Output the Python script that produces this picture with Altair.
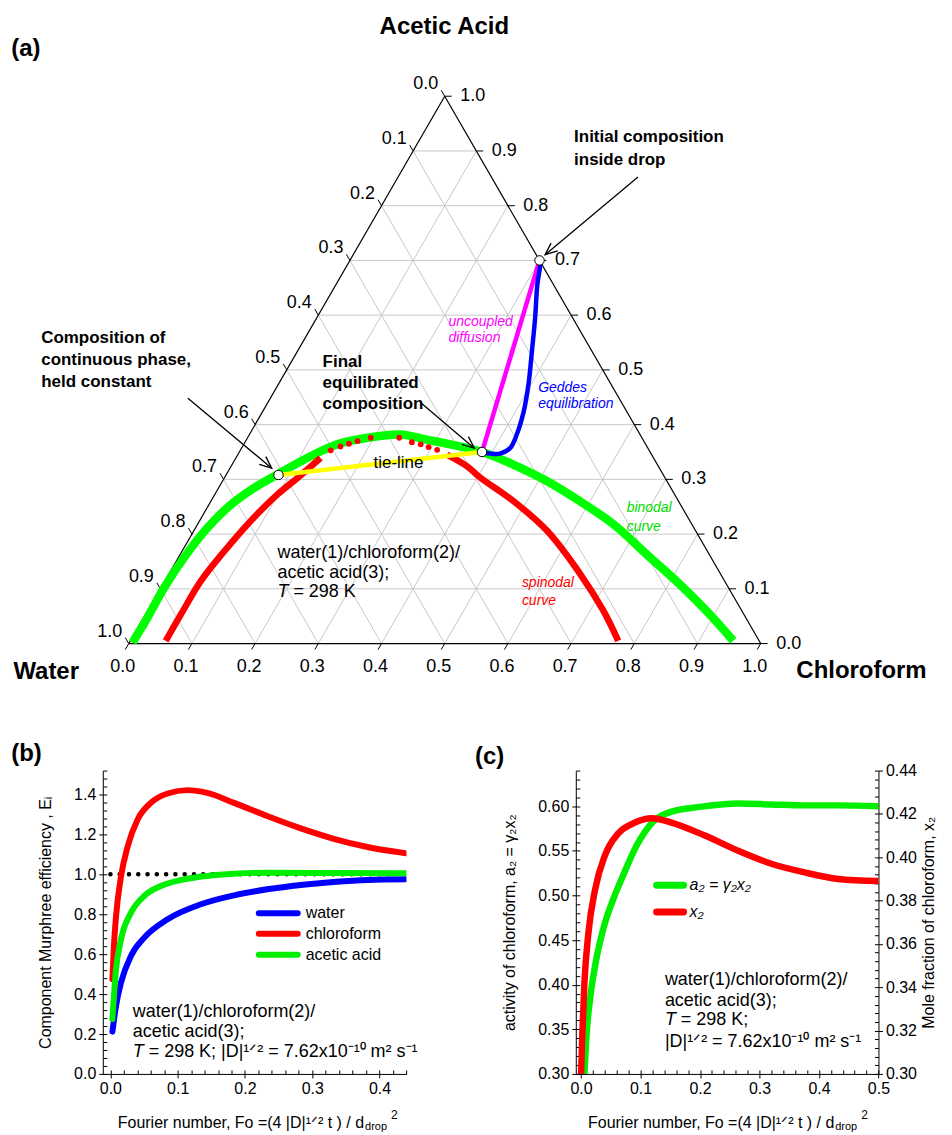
import math
import altair as alt
import pandas as pd

FONT = "Liberation Sans"

# ---------------- (a) ternary diagram: compositions (x_chloroform, x_acetic acid) ----------------
binodal_chloro = [0.005, 0.006, 0.005, 0.009, 0.019, 0.035, 0.056, 0.081, 0.113, 0.148, 0.194, 0.239,
                  0.283, 0.327, 0.384, 0.445, 0.513, 0.584, 0.658, 0.738, 0.818, 0.901, 0.954]
binodal_acetic = [0.002, 0.047, 0.102, 0.157, 0.212, 0.254, 0.284, 0.309, 0.339, 0.364, 0.377, 0.382,
                  0.373, 0.364, 0.350, 0.327, 0.297, 0.260, 0.218, 0.163, 0.108, 0.047, 0.005]

spin_left_chloro = [0.056, 0.056, 0.057, 0.067, 0.081, 0.099, 0.116, 0.134]
spin_left_acetic = [0.005, 0.054, 0.114, 0.169, 0.224, 0.272, 0.303, 0.339]
spin_dot_chloro = [0.143, 0.155, 0.166, 0.177, 0.195, 0.240, 0.264, 0.280, 0.295, 0.311]
spin_dot_acetic = [0.353, 0.360, 0.365, 0.370, 0.376, 0.376, 0.368, 0.364, 0.359, 0.354]
spin_right_chloro = [0.331, 0.373, 0.405, 0.479, 0.559, 0.651, 0.721, 0.772]
spin_right_acetic = [0.345, 0.324, 0.303, 0.260, 0.206, 0.127, 0.060, 0.005]

geddes_chloro = [0.300, 0.305, 0.319, 0.346, 0.371, 0.396, 0.413, 0.423, 0.425, 0.414, 0.399, 0.384]
geddes_acetic = [0.700, 0.692, 0.655, 0.594, 0.534, 0.473, 0.424, 0.382, 0.357, 0.347, 0.347, 0.350]

uncoupled_chloro = [0.300, 0.384]
uncoupled_acetic = [0.700, 0.350]

tie_chloro = [0.083, 0.384]
tie_acetic = [0.308, 0.350]

point_names = ["initial", "continuous", "final"]
point_chloro = [0.300, 0.083, 0.384]
point_acetic = [0.700, 0.308, 0.350]

tern_ticks = [0.0, 0.1, 0.2, 0.3, 0.4, 0.5, 0.6, 0.7, 0.8, 0.9, 1.0]

# ---------------- (b) Murphree efficiencies ----------------
fo_water = [0.003, 0.0084, 0.0158, 0.0307, 0.0504, 0.085, 0.1345, 0.184, 0.233, 0.283, 0.332, 0.382, 0.44]
E_water = [0.212, 0.342, 0.458, 0.592, 0.683, 0.775, 0.850, 0.895, 0.925, 0.947, 0.962, 0.972, 0.975]
fo_chloro = [0.003, 0.005, 0.0084, 0.0158, 0.0257, 0.0405, 0.060, 0.085, 0.1147, 0.144, 0.184, 0.233,
             0.283, 0.332, 0.382, 0.44]
E_chloro = [0.475, 0.625, 0.790, 0.990, 1.140, 1.275, 1.358, 1.405, 1.422, 1.408, 1.358, 1.292,
            1.230, 1.178, 1.137, 1.105]
fo_acetic = [0.003, 0.0084, 0.0158, 0.0307, 0.0504, 0.075, 0.110, 0.144, 0.184, 0.233, 0.332, 0.44]
E_acetic = [0.275, 0.525, 0.675, 0.808, 0.892, 0.942, 0.975, 0.992, 1.003, 1.008, 1.007, 1.005]
b_names = ["water", "chloroform", "acetic acid"]
b_colors = ["#0000ff", "#ff0000", "#00ee00"]
fo_unity = [0.0, 0.426]
E_unity = [1.0, 1.0]

# ---------------- (c) activity and mole fraction of chloroform ----------------
fo_a2 = [0.0056, 0.0095, 0.0151, 0.0246, 0.0375, 0.0542, 0.071, 0.0934, 0.1214, 0.152, 0.197, 0.264,
         0.320, 0.376, 0.432, 0.5]
a2_vals = [0.300, 0.347, 0.384, 0.425, 0.463, 0.496, 0.523, 0.556, 0.583, 0.594, 0.599, 0.603,
           0.602, 0.601, 0.601, 0.600]
fo_x2 = [0.0, 0.0022, 0.0056, 0.0123, 0.0235, 0.0403, 0.0626, 0.0906, 0.1186, 0.152, 0.208, 0.264,
         0.320, 0.376, 0.432, 0.5]
x2_vals = [0.300, 0.319, 0.342, 0.365, 0.385, 0.401, 0.411, 0.416, 0.418, 0.416, 0.410, 0.403,
           0.397, 0.393, 0.390, 0.389]
c_names = ["a₂ = γ₂x₂", "x₂"]
c_colors = ["#00ee00", "#ff0000"]

# =====================================================================================
S3 = math.sqrt(3) / 2.0


def tern_xy(c, a):
    return c + a / 2.0, a * S3


def tern_curve(chloro, acetic):
    rows = []
    for i, (c, a) in enumerate(zip(chloro, acetic)):
        X, Y = tern_xy(c, a)
        rows.append({"X": X, "Y": Y, "i": i})
    return pd.DataFrame(rows)


TX = alt.Scale(domain=[-0.04105, 1.3016], nice=False, zero=False)
TY = alt.Scale(domain=[-0.09048, 1.01484], nice=False, zero=False)


def tx(f="X"):
    return alt.X(f"{f}:Q", scale=TX, axis=None)


def ty(f="Y"):
    return alt.Y(f"{f}:Q", scale=TY, axis=None)


def t_rules(df, **kw):
    return alt.Chart(df).mark_rule(**kw).encode(
        x=tx("X"), y=ty("Y"), x2=alt.X2("X2:Q"), y2=alt.Y2("Y2:Q"))


def t_line(df, **kw):
    return alt.Chart(df).mark_line(**kw).encode(x=tx(), y=ty(), order="i:Q")


def t_text(rows, **kw):
    df = pd.DataFrame(rows, columns=["X", "Y", "text"])
    return alt.Chart(df).mark_text(font=FONT, baseline="middle", **kw).encode(
        x=tx(), y=ty(), text="text:N")


# grid lines
grid_rows = []
for k in tern_ticks[1:-1]:
    grid_rows.append({"X": k / 2, "Y": k * S3, "X2": 1 - k / 2, "Y2": k * S3})
    grid_rows.append({"X": k, "Y": 0.0, "X2": k + (1 - k) / 2, "Y2": (1 - k) * S3})
    grid_rows.append({"X": 1 - k, "Y": 0.0, "X2": (1 - k) / 2, "Y2": (1 - k) * S3})
grid_df = pd.DataFrame(grid_rows)

edge_df = pd.DataFrame([
    {"X": 0.0, "Y": 0.0, "X2": 1.0, "Y2": 0.0},
    {"X": 1.0, "Y": 0.0, "X2": 0.5, "Y2": S3},
    {"X": 0.5, "Y": S3, "X2": 0.0, "Y2": 0.0},
])

L = 0.011
tick_rows, bl_rows, ll_rows, rl_rows = [], [], [], []
for k in tern_ticks:
    lab = f"{k:.1f}"
    tick_rows.append({"X": k, "Y": 0.0, "X2": k - 0.5 * L, "Y2": -S3 * L})
    lx, ly = 0.5 * (1 - k), S3 * (1 - k)
    tick_rows.append({"X": lx, "Y": ly, "X2": lx - 0.5 * L, "Y2": ly + S3 * L})
    rx, ry = 1 - k / 2, S3 * k
    tick_rows.append({"X": rx, "Y": ry, "X2": rx + L, "Y2": ry})
    bl_rows.append((k, 0.0, lab))
    ll_rows.append((lx, ly, lab))
    rl_rows.append((rx, ry, lab))
tick_df = pd.DataFrame(tick_rows)

# arrows (annotation geometry, diagram units)
arrow_from = [(0.8058, 0.7382), (0.0936, 0.3880), (0.4631, 0.3801)]
arrow_to = [(0.6589, 0.6153), (0.2263, 0.2775), (0.5468, 0.3090)]
arr_rows, head_rows = [], []
for (x1, y1), (x2, y2) in zip(arrow_from, arrow_to):
    arr_rows.append({"X": x1, "Y": y1, "X2": x2, "Y2": y2})
    ang = math.degrees(math.atan2(-(y2 - y1), x2 - x1)) % 360
    head_rows.append({"X": x2, "Y": y2, "ang": ang})
arr_df = pd.DataFrame(arr_rows)
head_df = pd.DataFrame(head_rows)

pts = []
for n, c, a in zip(point_names, point_chloro, point_acetic):
    X, Y = tern_xy(c, a)
    pts.append({"X": X, "Y": Y, "name": n})
pts_df = pd.DataFrame(pts)

anchor_a = pd.DataFrame({"X": [-0.2016, -0.2016], "Y": [1.0148, -0.0905]})

layers_a = [
    t_rules(grid_df, color="#c8c8c8", strokeWidth=1),
    t_rules(edge_df, color="black", strokeWidth=1.2),
    t_rules(tick_df, color="black", strokeWidth=1),
    t_text(bl_rows, fontSize=18, align="center", dx=-6, dy=24),
    t_text(ll_rows, fontSize=18, align="center", dx=-19, dy=-12),
    t_text(rl_rows, fontSize=18, align="center", dx=28, dy=0),
    t_line(tern_curve(binodal_chloro, binodal_acetic), color="#00ff00", strokeWidth=8.5,
           interpolate="catmull-rom"),
    t_line(tern_curve(spin_left_chloro, spin_left_acetic), color="#ff0000", strokeWidth=6.5,
           interpolate="catmull-rom"),
    t_line(tern_curve(spin_right_chloro, spin_right_acetic), color="#ff0000", strokeWidth=6.5,
           interpolate="catmull-rom"),
    alt.Chart(tern_curve(spin_dot_chloro, spin_dot_acetic)).mark_circle(
        color="#ff0000", size=34, opacity=1).encode(x=tx(), y=ty()),
    t_line(tern_curve(tie_chloro, tie_acetic), color="#ffff00", strokeWidth=4.5),
    t_line(tern_curve(uncoupled_chloro, uncoupled_acetic), color="#ff00ff", strokeWidth=4.5),
    t_line(tern_curve(geddes_chloro, geddes_acetic), color="#0000ff", strokeWidth=4.5,
           interpolate="catmull-rom"),
    t_rules(arr_df, color="black", strokeWidth=1.3),
    alt.Chart(head_df).mark_point(shape="M-2,-0.85L0,0L-2,0.85", filled=False, color="black",
                                  strokeWidth=1.3, size=144, opacity=1).encode(
        x=tx(), y=ty(), angle=alt.Angle("ang:Q", scale=None)),
    alt.Chart(pts_df).mark_circle(color="white", stroke="black", strokeWidth=1, size=90,
                                  opacity=1).encode(x=tx(), y=ty()),
    t_text([(0.4994, 0.9753, "Acetic Acid"), (-0.1306, -0.0447, "Water"),
            (1.1595, -0.0431, "Chloroform")], fontSize=24, fontWeight="bold", align="center"),
    t_text([(-0.1858, 0.9406, "(a)")], fontSize=24, fontWeight="bold", align="left"),
    t_text([(0.7047, 0.8017, "Initial composition"), (0.7047, 0.7654, "inside drop"),
            (-0.1385, 0.4827, "Composition of"), (-0.1385, 0.4480, "continuous phase,"),
            (-0.1385, 0.4132, "held constant"),
            (0.3068, 0.4448, "Final"), (0.3068, 0.4117, "equilibrated"),
            (0.3068, 0.3785, "composition")], fontSize=17, fontWeight="bold", align="left"),
    t_text([(0.5058, 0.5080, "uncoupled"), (0.5058, 0.4827, "diffusion")], fontSize=14,
           fontStyle="italic", align="left", color="#ff00ff"),
    t_text([(0.6479, 0.4038, "Geddes"), (0.6479, 0.3785, "equilibration")], fontSize=14,
           fontStyle="italic", align="left", color="#0000ff"),
    t_text([(0.7879, 0.2138, "binodal"), (0.7879, 0.1847, "curve")], fontSize=14,
           fontStyle="italic", align="left", color="#00dd00"),
    t_text([(0.6221, 0.0963, "spinodal"), (0.6221, 0.0674, "curve")], fontSize=14,
           fontStyle="italic", align="left", color="#ff0000"),
    t_text([(0.4268, 0.2853, "tie-line")], fontSize=17, align="center"),
    t_text([(0.2353, 0.1432, "water(1)/chloroform(2)/"), (0.2353, 0.1116, "acetic acid(3);")],
           fontSize=18, align="left"),
    t_text([(0.2353, 0.0808, "T")], fontSize=18, align="left", fontStyle="italic"),
    t_text([(0.2353, 0.0808, "= 298 K")], fontSize=18, align="left", dx=16),
    alt.Chart(anchor_a).mark_point(size=1, opacity=0, filled=True).encode(x=tx(), y=ty()),
]
top = alt.layer(*layers_a).properties(width=850.3, height=700)

# ---------------- panel (b) ----------------
WB, HB = 304.3, 304
XB = alt.Scale(domain=[-0.0113, 0.44], nice=False, zero=False)
YB = alt.Scale(domain=[0, 1.52], nice=False, zero=False)


def bx(axis=None):
    return alt.X("fo:Q", scale=XB, axis=axis)


def by(axis=None):
    return alt.Y("E:Q", scale=YB, axis=axis)


def b_text(rows, **kw):
    df = pd.DataFrame(rows, columns=["fo", "E", "text"])
    return alt.Chart(df).mark_text(font=FONT, baseline="middle", **kw).encode(
        x=bx(), y=by(), text="text:N")


def series_df(xs, ys, xname, yname):
    return pd.DataFrame({xname: xs, yname: ys, "i": list(range(len(xs)))})


b_main_x = alt.Axis(values=[0.0, 0.1, 0.2, 0.3, 0.4], format=".1f", title=None, tickSize=4,
                    labelPadding=3, labelFlush=False, labelOverlap=False)
b_main_y = alt.Axis(values=[0.0, 0.2, 0.4, 0.6, 0.8, 1.0, 1.2, 1.4], format=".1f",
                    title="Component Murphree efficiency , Eᵢ", titlePadding=20, tickSize=4,
                    labelPadding=3, labelFlush=False, labelOverlap=False)
b_minor_x = alt.Axis(orient="top", offset=-HB, values=[round(i * 0.02, 2) for i in range(23)],
                     labels=False, domain=False, tickSize=4, title=None)
b_minor_y = alt.Axis(orient="right", offset=-WB, values=[round(i * 0.04, 2) for i in range(39)],
                     labels=False, domain=False, tickSize=4, title=None)

b_series = [(fo_water, E_water), (fo_chloro, E_chloro), (fo_acetic, E_acetic)]
layers_b = [
    alt.Chart(series_df(fo_unity, E_unity, "fo", "E")).mark_line(
        color="black", strokeWidth=4.5, strokeDash=[0.1, 9.2], strokeCap="round").encode(
        x=bx(b_main_x), y=by(b_main_y), order="i:Q"),
]
for (xs, ys), col in zip(b_series, b_colors):
    layers_b.append(alt.Chart(series_df(xs, ys, "fo", "E")).mark_line(
        color=col, strokeWidth=6, interpolate="monotone", strokeCap="round", clip=True).encode(
        x=bx(), y=by(), order="i:Q"))
layers_b.append(alt.Chart(pd.DataFrame({"fo": [0.0], "E": [0.0]})).mark_point(opacity=0, size=1).encode(
    x=bx(b_minor_x), y=by(b_minor_y)))
leg_y_b = [0.805, 0.702, 0.597]
leg_b_df = pd.DataFrame({"fo": [0.2206] * 3, "fo2": [0.2784] * 3, "E": leg_y_b, "legb": b_names})
layers_b.append(alt.Chart(leg_b_df).mark_rule(strokeWidth=6, strokeCap="round").encode(
    x=bx(), x2=alt.X2("fo2:Q"), y=by(),
    color=alt.Color("legb:N", scale=alt.Scale(domain=b_names, range=b_colors), legend=None)))
layers_b.append(b_text([(0.2903, e, n) for e, n in zip(leg_y_b, b_names)], fontSize=16, align="left"))
layers_b.append(b_text([(-0.1473, 1.6015, "(b)")], fontSize=24, fontWeight="bold", align="left"))
layers_b.append(b_text([(0.0332, 0.308, "water(1)/chloroform(2)/"), (0.0332, 0.208, "acetic acid(3);")],
                       fontSize=18, align="left"))
layers_b.append(b_text([(0.0332, 0.108, "T")], fontSize=18, align="left", fontStyle="italic"))
layers_b.append(b_text([(0.0332, 0.108, "= 298 K; |D|¹ᐟ² = 7.62x10⁻¹⁰ m² s⁻¹")], fontSize=18,
                       align="left", dx=16))
layers_b.append(b_text([(0.377, -0.2435, "Fourier number, Fo =(4 |D|¹ᐟ²  t ) / d")], fontSize=16,
                       align="right"))
layers_b.append(b_text([(0.377, -0.2435, "drop")], fontSize=11, align="left", dx=1, dy=4))
layers_b.append(b_text([(0.377, -0.2435, "2")], fontSize=12, align="left", dx=27, dy=-8))
layers_b.append(alt.Chart(pd.DataFrame({"fo": [-0.1621, 0.4905], "E": [1.6865, 1.6865]})).mark_point(
    opacity=0, size=1, filled=True).encode(x=bx(), y=by()))

panel_b = alt.layer(*layers_b).resolve_axis(x="independent", y="independent").properties(
    width=WB, height=HB)

# ---------------- panel (c) ----------------
WC, HC = 303.3, 304
XC = alt.Scale(domain=[-0.0089, 0.5], nice=False, zero=False)
YL = alt.Scale(domain=[0.30, 0.64], nice=False, zero=False)
YR = alt.Scale(domain=[0.30, 0.44], nice=False, zero=False)


def cx(axis=None):
    return alt.X("fo:Q", scale=XC, axis=axis)


def cyl(axis=None, f="v"):
    return alt.Y(f"{f}:Q", scale=YL, axis=axis)


def cyr(axis=None, f="v"):
    return alt.Y(f"{f}:Q", scale=YR, axis=axis)


def c_text(rows, **kw):
    df = pd.DataFrame(rows, columns=["fo", "v", "text"])
    return alt.Chart(df).mark_text(font=FONT, baseline="middle", **kw).encode(
        x=cx(), y=cyl(), text="text:N")


c_main_x = alt.Axis(values=[0.0, 0.1, 0.2, 0.3, 0.4, 0.5], format=".1f", title=None, tickSize=4,
                    labelPadding=3, labelFlush=False, labelOverlap=False)
c_left_y = alt.Axis(orient="left", values=[0.30, 0.35, 0.40, 0.45, 0.50, 0.55, 0.60], format=".2f",
                    title="activity of chloroform, a₂ = γ₂x₂", titlePadding=20, tickSize=4,
                    labelPadding=3, labelFlush=False, labelOverlap=False)
c_right_y = alt.Axis(orient="right", values=[0.30, 0.32, 0.34, 0.36, 0.38, 0.40, 0.42, 0.44],
                     format=".2f", title="Mole fraction of chloroform, x₂", titlePadding=20,
                     titleAngle=270, titleBaseline="bottom",
                     tickSize=4, labelPadding=3, labelFlush=False, labelOverlap=False)
c_minor_x = alt.Axis(orient="top", offset=-HC, values=[round(i * 0.02, 2) for i in range(26)],
                     labels=False, domain=False, tickSize=4, title=None)
c_minor_l = alt.Axis(orient="right", offset=-WC, values=[round(0.30 + i * 0.01, 2) for i in range(35)],
                     labels=False, domain=False, tickSize=4, title=None)
c_minor_r = alt.Axis(orient="left", offset=-WC, values=[round(0.30 + i * 0.004, 3) for i in range(36)],
                     labels=False, domain=False, tickSize=4, title=None)

layers_c = [
    alt.Chart(series_df(fo_a2, a2_vals, "fo", "v")).mark_line(
        color=c_colors[0], strokeWidth=6.5, interpolate="monotone", strokeCap="round", clip=True).encode(
        x=cx(c_main_x), y=cyl(c_left_y), order="i:Q"),
    alt.Chart(series_df(fo_x2, x2_vals, "fo", "v")).mark_line(
        color=c_colors[1], strokeWidth=6.5, interpolate="monotone", strokeCap="round", clip=True).encode(
        x=cx(), y=cyr(c_right_y), order="i:Q"),
    alt.Chart(pd.DataFrame({"fo": [0.0], "v": [0.3]})).mark_point(opacity=0, size=1).encode(
        x=cx(c_minor_x), y=cyl(c_minor_l)),
    alt.Chart(pd.DataFrame({"fo": [0.0], "v": [0.3]})).mark_point(opacity=0, size=1).encode(
        x=cx(), y=cyr(c_minor_r)),
]
c_leg_y = [0.5114, 0.4815]
leg_c_df = pd.DataFrame({"fo": [0.127] * 2, "fo2": [0.1723] * 2, "v": c_leg_y, "legc": c_names})
layers_c.append(alt.Chart(leg_c_df).mark_rule(strokeWidth=7, strokeCap="round").encode(
    x=cx(), x2=alt.X2("fo2:Q"), y=cyl(),
    color=alt.Color("legc:N", scale=alt.Scale(domain=c_names, range=c_colors), legend=None)))
layers_c.append(c_text([(0.1824, y, n) for y, n in zip(c_leg_y, c_names)], fontSize=16,
                       align="left", fontStyle="italic"))
layers_c.append(c_text([(-0.1784, 0.6549, "(c)")], fontSize=24, fontWeight="bold", align="left"))
layers_c.append(c_text([(0.1409, 0.4051, "water(1)/chloroform(2)/"), (0.1409, 0.3820, "acetic acid(3);"),
                        (0.1409, 0.3361, "|D|¹ᐟ² = 7.62x10⁻¹⁰ m² s⁻¹")], fontSize=18, align="left"))
layers_c.append(c_text([(0.1409, 0.3604, "T")], fontSize=18, align="left", fontStyle="italic"))
layers_c.append(c_text([(0.1409, 0.3604, "= 298 K;")], fontSize=18, align="left", dx=16))
layers_c.append(c_text([(0.4257, 0.2455, "Fourier number, Fo =(4 |D|¹ᐟ²  t ) / d")], fontSize=16,
                       align="right"))
layers_c.append(c_text([(0.4257, 0.2455, "drop")], fontSize=11, align="left", dx=1, dy=4))
layers_c.append(c_text([(0.4257, 0.2455, "2")], fontSize=12, align="left", dx=27, dy=-8))
layers_c.append(alt.Chart(pd.DataFrame({"fo": [-0.2002], "v": [0.6772]})).mark_point(
    opacity=0, size=1, filled=True).encode(x=cx(), y=cyl()))

panel_c = alt.layer(*layers_c).resolve_scale(y="independent", color="independent").resolve_axis(
    x="independent", y="independent").properties(width=WC, height=HC)

bottom = alt.hconcat(panel_b, panel_c, spacing=20).resolve_scale(color="independent")

chart = alt.vconcat(top, bottom, spacing=35).resolve_scale(color="independent").properties(
    padding=0, background="white"
).configure_view(stroke=None).configure_axis(
    labelFont=FONT, titleFont=FONT, labelFontSize=16, titleFontSize=16, titleFontWeight="normal",
    labelColor="black", titleColor="black", domainColor="black", tickColor="black", grid=False,
    tickWidth=1, domainWidth=1
)

chart.save("out.html", embed_options={"renderer": "svg", "actions": False})
